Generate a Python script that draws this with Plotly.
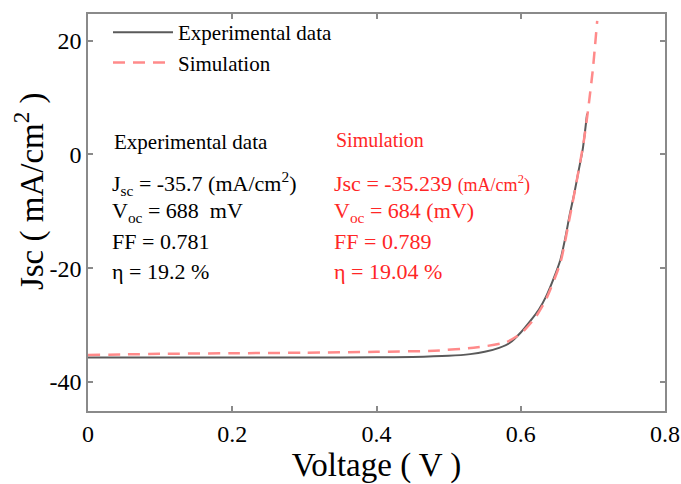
import plotly.graph_objects as go

# Experimental J-V data (V, mA/cm2)
exp_v = [0.0, 0.1, 0.2, 0.3, 0.4, 0.45, 0.5, 0.53, 0.55, 0.57, 0.585, 0.6, 0.615,
         0.625, 0.635, 0.645, 0.655, 0.662, 0.668, 0.674, 0.68, 0.686, 0.692]
exp_j = [-35.7, -35.7, -35.7, -35.7, -35.65, -35.6, -35.4, -35.1, -34.7, -34.0, -33.1,
         -31.3, -29.0, -27.3, -25.0, -22.0, -18.5, -14.5, -10.5, -7.0, -3.0, 1.0, 7.2]

# Simulation J-V data
sim_v = [0.0, 0.05, 0.1, 0.2, 0.3, 0.4, 0.48, 0.54, 0.58, 0.6, 0.62, 0.635, 0.655,
         0.668, 0.68, 0.687, 0.693, 0.7, 0.706]
sim_j = [-35.24, -35.15, -35.05, -34.95, -34.85, -34.7, -34.5, -33.9, -33.0, -31.5,
         -28.7, -25.5, -19.0, -11.0, -3.0, 2.0, 7.5, 15.0, 23.5]

x_ticks = [0, 0.2, 0.4, 0.6, 0.8]
x_ticktext = ["0", "0.2", "0.4", "0.6", "0.8"]
y_ticks = [-40, -20, 0, 20]
y_ticktext = ["-40", "-20", "0", "20"]

exp_lines = ["J<sub>sc</sub> = -35.7 (mA/cm<sup>2</sup>)",
             "V<sub>oc</sub> = 688  mV",
             "FF = 0.781",
             "η = 19.2 %"]
sim_lines = ["Jsc = -35.239 <span style='font-size:18px'>(mA/cm<sup>2</sup>)</span>",
             "V<sub>oc</sub> = 684 (mV)",
             "FF = 0.789",
             "η = 19.04 %"]

SERIF = "Times New Roman, Liberation Serif, serif"
RED = "#ff2626"

fig = go.Figure()
fig.add_trace(go.Scatter(x=exp_v, y=exp_j, mode="lines", name="Experimental data",
                         line=dict(color="#5a5a5a", width=2, shape="spline", smoothing=0.6)))
fig.add_trace(go.Scatter(x=sim_v, y=sim_j, mode="lines", name="Simulation",
                         line=dict(color="#ff8a8a", width=2.5, dash="12px,8px",
                                   shape="spline", smoothing=0.6)))

L, R, T, B = 88, 16, 12, 73
W, H = 681, 484
pw, ph = W - L - R, H - T - B

def px(xp):
    return (xp - L) / pw

def py(yp):
    return (H - B - yp) / ph

ann = []
ann.append(dict(text="Experimental data", x=px(112), y=py(141), font=dict(size=21, color="black")))
ys = [182, 211, 241, 271]
for t, yy in zip(exp_lines, ys):
    ann.append(dict(text=t, x=px(110), y=py(yy), font=dict(size=22, color="black")))
ann.append(dict(text="Simulation", x=px(334), y=py(139), font=dict(size=20, color=RED)))
for t, yy in zip(sim_lines, ys):
    ann.append(dict(text=t, x=px(332), y=py(yy), font=dict(size=22, color=RED)))
annotations = []
for a in ann:
    a.update(xref="paper", yref="paper", xanchor="left", yanchor="middle", showarrow=False)
    a["font"]["family"] = SERIF
    annotations.append(a)
# y-axis title
annotations.append(dict(text="Jsc ( mA/cm<sup>2</sup> )", x=px(29), y=py(190), xref="paper", yref="paper",
                        xanchor="center", yanchor="middle", showarrow=False, textangle=-90,
                        font=dict(family=SERIF, size=33, color="black")))

axis_common = dict(showline=True, linecolor="#8a8a8a", linewidth=1.5, mirror="ticks",
                   ticks="inside", ticklen=5, tickcolor="#8a8a8a", tickwidth=1.5,
                   showgrid=False, zeroline=False, automargin=False,
                   tickfont=dict(family=SERIF, size=24, color="black"))

fig.update_layout(
    width=W, height=H,
    margin=dict(l=L, r=R, t=T, b=B),
    paper_bgcolor="white", plot_bgcolor="white",
    font=dict(family=SERIF),
    showlegend=True,
    legend=dict(x=px(108), y=py(10), xanchor="left", yanchor="top",
                bgcolor="rgba(0,0,0,0)", font=dict(family=SERIF, size=21, color="black"),
                itemwidth=60, tracegroupgap=0),
    xaxis=dict(range=[0, 0.8], tickvals=x_ticks, ticktext=x_ticktext,
               title=dict(text="Voltage ( V )", font=dict(family=SERIF, size=33, color="black"), standoff=13),
               **axis_common),
    yaxis=dict(range=[-45.1, 24.7], tickvals=y_ticks, ticktext=y_ticktext, **axis_common),
    annotations=annotations,
)

fig.write_html("out.html")
